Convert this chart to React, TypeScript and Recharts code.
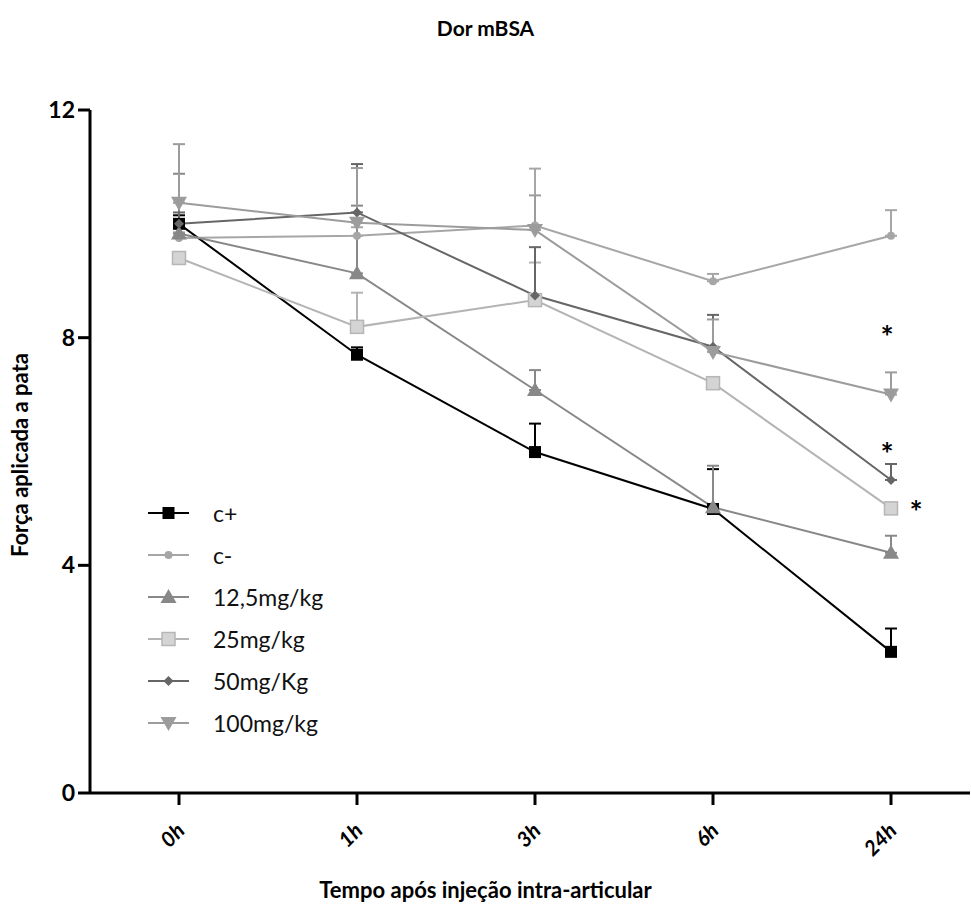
import React from 'react';
import { LineChart, Line, XAxis, YAxis, ErrorBar, ReferenceDot, Legend } from 'recharts';

const categories = ['0h', '1h', '3h', '6h', '24h'];
const yTicks = [0, 4, 8, 12];

const cPlus = [10.0, 7.7, 5.99, 4.99, 2.48];
const cPlusErr = [0.15, 0.13, 0.5, 0.7, 0.41];
const cMinus = [9.75, 9.79, 9.97, 8.99, 9.79];
const cMinusErr = [0.1, 0.15, 1.0, 0.13, 0.45];
const d12 = [9.83, 9.13, 7.08, 5.02, 4.22];
const d12Err = [1.05, 1.19, 0.35, 0.73, 0.3];
const d25 = [9.4, 8.19, 8.66, 7.2, 5.0];
const d25Err = [0.1, 0.6, 0.66, 0.1, 0.1];
const d50 = [10.0, 10.2, 8.74, 7.84, 5.5];
const d50Err = [0.2, 0.85, 0.85, 0.56, 0.28];
const d100 = [10.37, 10.02, 9.89, 7.75, 7.0];
const d100Err = [1.03, 0.96, 0.61, 0.57, 0.39];

const sigValues = [8.12, 6.07, 5.05];

const seriesNames = ['c+', 'c-', '12,5mg/kg', '25mg/kg', '50mg/Kg', '100mg/kg'];

const data = categories.map((t, i) => ({
  t,
  cp: cPlus[i], cpE: [0, cPlusErr[i]],
  cm: cMinus[i], cmE: [0, cMinusErr[i]],
  d12: d12[i], d12E: [0, d12Err[i]],
  d25: d25[i], d25E: [0, d25Err[i]],
  d50: d50[i], d50E: [0, d50Err[i]],
  d100: d100[i], d100E: [0, d100Err[i]],
}));

const FONT = 'Lato, "Open Sans", sans-serif';

type MK = 'square' | 'circle' | 'tri' | 'lsquare' | 'diamond' | 'dtri';

const Marker = ({ kind, cx, cy, color }: { kind: MK; cx: number; cy: number; color: string }) => {
  if (cx == null || cy == null) return null;
  switch (kind) {
    case 'square':
      return <rect x={cx - 6} y={cy - 6} width={12} height={12} fill={color} />;
    case 'lsquare':
      return <rect x={cx - 6.5} y={cy - 6.5} width={13} height={13} fill="#d4d4d4" stroke="#b6b6b6" strokeWidth={1.5} />;
    case 'circle':
      return <circle cx={cx} cy={cy} r={4} fill={color} />;
    case 'tri':
      return <polygon points={`${cx},${cy - 8} ${cx - 8},${cy + 6} ${cx + 8},${cy + 6}`} fill={color} />;
    case 'dtri':
      return <polygon points={`${cx - 8},${cy - 6} ${cx + 8},${cy - 6} ${cx},${cy + 8}`} fill={color} />;
    case 'diamond':
      return <polygon points={`${cx},${cy - 5} ${cx + 5},${cy} ${cx},${cy + 5} ${cx - 5},${cy}`} fill={color} />;
  }
  return null;
};

const series: { key: string; err: string; color: string; kind: MK }[] = [
  { key: 'cp', err: 'cpE', color: '#000000', kind: 'square' },
  { key: 'cm', err: 'cmE', color: '#a6a6a6', kind: 'circle' },
  { key: 'd12', err: 'd12E', color: '#888888', kind: 'tri' },
  { key: 'd25', err: 'd25E', color: '#b4b4b4', kind: 'lsquare' },
  { key: 'd50', err: 'd50E', color: '#666666', kind: 'diamond' },
  { key: 'd100', err: 'd100E', color: '#9c9c9c', kind: 'dtri' },
];

const XTick = (props: any) => {
  const { x, y, payload } = props;
  const ax = x + 7;
  const ay = y + 25;
  return (
    <text x={ax} y={ay} textAnchor="end" transform={`rotate(-45, ${ax}, ${ay})`}
      fontFamily={FONT} fontWeight="bold" fontStyle="italic" fontSize={21} fill="#000">
      {payload.value}
    </text>
  );
};

const YTick = (props: any) => {
  const { x, y, payload } = props;
  return (
    <text x={x - 1} y={y + 8} textAnchor="end" fontFamily={FONT} fontWeight="bold" fontSize={23} fill="#000">
      {payload.value}
    </text>
  );
};

const LegendContent = () => (
  <div style={{ fontFamily: FONT }}>
    {series.map((s, i) => (
      <div key={s.key} style={{ display: 'flex', alignItems: 'center', height: 42 }}>
        <svg width={60} height={20} style={{ display: 'block' }}>
          <line x1={8} y1={10} x2={49} y2={10} stroke={s.color} strokeWidth={2} />
          <Marker kind={s.kind} cx={28.5} cy={10} color={s.color} />
        </svg>
        <span style={{ marginLeft: 13, fontSize: 23, color: '#111', lineHeight: '23px' }}>{seriesNames[i]}</span>
      </div>
    ))}
  </div>
);

const Star = (dx: number) => (props: any) => (
  <text x={props.cx + dx} y={props.cy + 17} textAnchor="middle" fontFamily={FONT} fontWeight="bold" fontSize={31} fill="#000">*</text>
);

export default function App() {
  return (
    <div style={{ position: 'absolute', left: 0, top: 0, width: 971, height: 909, background: '#fff' }}>
      <div style={{ position: 'absolute', left: 0, width: 971, top: 15, textAlign: 'center', fontFamily: FONT, fontWeight: 'bold', fontSize: 21, color: '#000' }}>
        Dor mBSA
      </div>
      <div style={{ position: 'absolute', left: 19, top: 455, transform: 'translate(-50%, -50%) rotate(-90deg)', whiteSpace: 'nowrap', fontFamily: FONT, fontWeight: 'bold', fontSize: 22, color: '#000' }}>
        Força aplicada a pata
      </div>
      <div style={{ position: 'absolute', left: 0, width: 971, top: 876, textAlign: 'center', fontFamily: FONT, fontWeight: 'bold', fontSize: 22, color: '#000' }}>
        Tempo após injeção intra-articular
      </div>
      <LineChart width={971} height={909} data={data} margin={{ top: 110, right: 1, bottom: 56, left: 30 }}>
        <XAxis dataKey="t" type="category" padding={{ left: 89, right: 79 }} height={60}
          axisLine={{ stroke: '#000', strokeWidth: 3 }} tickLine={{ stroke: '#000', strokeWidth: 3 }} tickSize={12}
          tick={<XTick />} interval={0} />
        <YAxis domain={[0, 12]} ticks={yTicks} width={60} allowDataOverflow
          axisLine={{ stroke: '#000', strokeWidth: 3 }} tickLine={{ stroke: '#000', strokeWidth: 3 }} tickSize={12}
          tick={<YTick />} />
        <Legend layout="vertical" align="center" verticalAlign="middle" content={<LegendContent />}
          wrapperStyle={{ position: 'absolute', left: 140, top: 492, width: 260 }} />
        {series.map((s) => (
          <Line key={s.key} dataKey={s.key} type="linear" stroke={s.color} strokeWidth={2} isAnimationActive={false}
            dot={(p: any) => <Marker key={`${s.key}-${p.index}`} kind={s.kind} cx={p.cx} cy={p.cy} color={s.color} />}
            activeDot={false}>
            <ErrorBar dataKey={s.err} direction="y" width={6} stroke={s.color} strokeWidth={2} isAnimationActive={false} />
          </Line>
        ))}
        <ReferenceDot x="24h" y={sigValues[0]} r={0} shape={Star(-4)} />
        <ReferenceDot x="24h" y={sigValues[1]} r={0} shape={Star(-4)} />
        <ReferenceDot x="24h" y={sigValues[2]} r={0} shape={Star(25)} />
      </LineChart>
    </div>
  );
}
